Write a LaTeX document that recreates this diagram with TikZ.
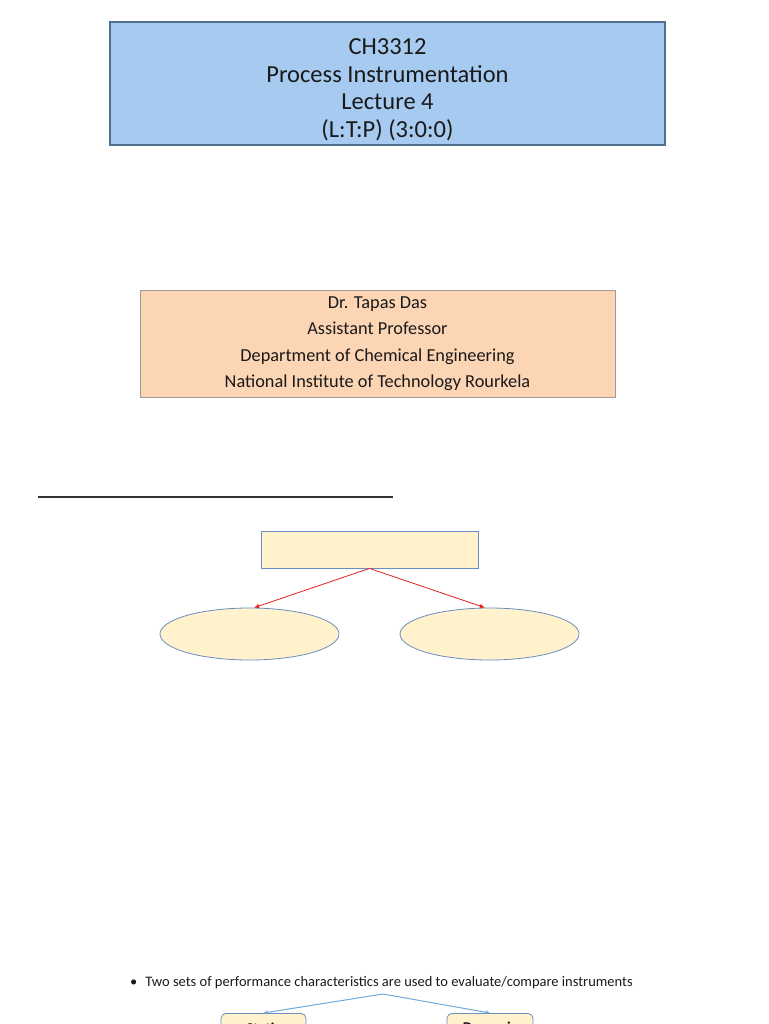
\documentclass[tikz,border=0pt]{standalone}
\usepackage{fontspec}
\setmainfont{Carlito}
\usetikzlibrary{arrows.meta,positioning,shapes.geometric}
\definecolor{TitleBlue}{HTML}{A6CAF0}
\definecolor{TitleEdge}{HTML}{4F6F8F}
\definecolor{Peach}{HTML}{FCD5B5}
\definecolor{PeachEdge}{HTML}{A09A96}
\definecolor{Cream}{HTML}{FFF2CC}
\definecolor{BoxEdge}{HTML}{6C8EBF}
\definecolor{LinkRed}{HTML}{E02020}
\definecolor{LinkBlue}{HTML}{6FA8DC}
\definecolor{Ink}{HTML}{1A1A1A}

\begin{document}
\begin{tikzpicture}[x=1pt,y=-1pt,>=Latex,
    creambox/.style={draw=BoxEdge,fill=Cream,line width=0.8pt},
    redlink/.style={LinkRed,line width=0.8pt,-{Latex[length=5pt,width=4.5pt]}},
    bluelink/.style={LinkBlue,line width=1pt,-{Latex[length=4pt,width=4pt]}}]
  \useasboundingbox (0,0) rectangle (768,1024);
  \clip (0,0) rectangle (768,1024);
  % title slide
  \node[draw=TitleEdge,fill=TitleBlue,line width=1.4pt,minimum width=555pt,
        minimum height=123pt,inner sep=0pt,align=center,text=Ink,
        font=\fontsize{24.5}{27.5}\selectfont] (title) at (387.5,83.5)
        {\rule{0pt}{28pt}CH3312\\Process Instrumentation\\Lecture 4\\(L:T:P) (3:0:0)};
  \node[draw=PeachEdge,fill=Peach,line width=1pt,minimum width=475pt,
        minimum height=107pt,inner sep=0pt,align=center,text=Ink,
        font=\fontsize{18.3}{26.5}\selectfont] (author) at (377.5,343.5)
        {Dr. Tapas Das\\Assistant Professor\\Department of Chemical Engineering\\National Institute of Technology Rourkela};
  % second slide
  \draw[black!80,line width=2pt] (38,497) -- (393,497);
  \node[creambox,minimum width=217pt,minimum height=37pt,inner sep=0pt] (head) at (369.5,549.5) {};
  \node[creambox,ellipse,minimum width=179pt,minimum height=52pt,inner sep=0pt] (left) at (249.5,634) {};
  \node[creambox,ellipse,minimum width=179pt,minimum height=52pt,inner sep=0pt] (right) at (489.5,634) {};
  \draw[redlink] (head.south) -- (left.80);
  \draw[redlink] (head.south) -- (right.100);
  % third slide
  \node[anchor=west,inner sep=0pt,text=Ink,font=\fontsize{14.5}{17}\selectfont] (intro) at (130,983)
        {\textbullet\hspace{8pt}Two sets of performance characteristics are used to evaluate/compare instruments};
  \coordinate (fork) at (383,994);
  \node[creambox,rounded corners=5pt,anchor=north,minimum width=85pt,minimum height=30pt,
        inner sep=0pt,text=Ink,font=\bfseries\fontsize{15}{18}\selectfont] (static) at (263.5,1013) {Static};
  \node[creambox,rounded corners=5pt,anchor=north,minimum width=86pt,minimum height=30pt,
        inner sep=0pt,text=Ink,font=\bfseries\fontsize{15}{18}\selectfont] (dynamic) at (490,1013) {Dynamic};
  \draw[bluelink] (fork) -- (static.north);
  \draw[bluelink] (fork) -- (dynamic.north);
\end{tikzpicture}
\end{document}
